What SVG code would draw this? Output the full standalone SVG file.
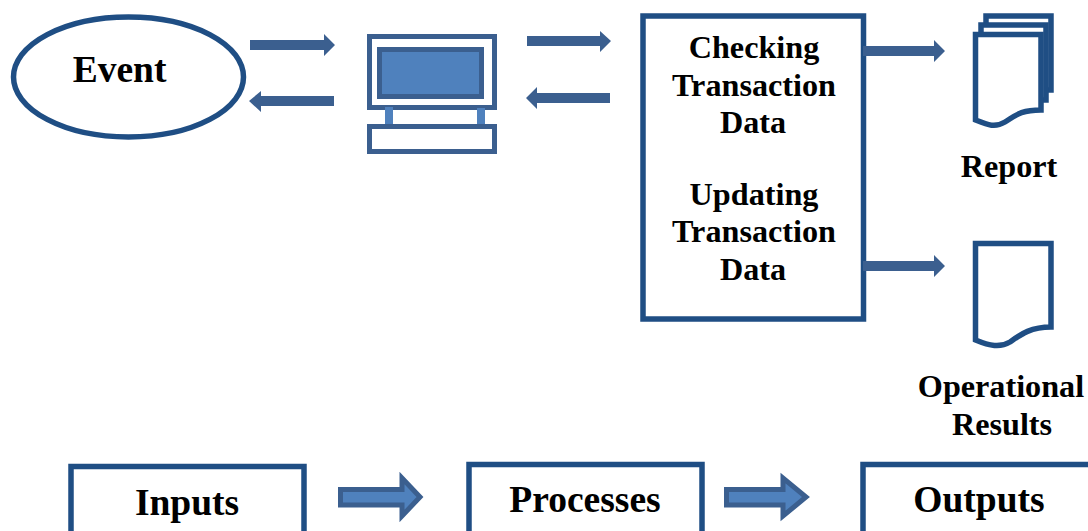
<svg xmlns="http://www.w3.org/2000/svg" width="1088" height="531" viewBox="0 0 1088 531">
<style>
.l{fill:#fff;stroke:#1f4e84;stroke-width:5.500}
.a{fill:#3b5f8f;stroke:none}
.b{fill:#4f81bd;stroke:#3b5f8f;stroke-width:5}
.m{fill:#fff;stroke:#3b5f8f;stroke-width:5}
text{font-family:"Liberation Serif","Times New Roman",serif;font-weight:bold;fill:#000;text-anchor:middle}
.t{font-size:32.200px}
.h{font-size:37.500px}
.k{font-size:37.500px}
</style>
<rect width="1088" height="531" fill="#fff"/>
<g id="event"><ellipse class="l" cx="128.500" cy="77" rx="115" ry="60"/><text class="h" x="119.500" y="82">Event</text></g>
<g id="computer">
<rect class="m" x="369.500" y="36.500" width="125" height="71"/>
<rect class="b" x="379.500" y="49.500" width="102" height="47"/>
<rect x="385" y="107" width="8" height="17" fill="#4f81bd"/>
<rect x="477" y="108" width="8" height="16" fill="#4f81bd"/>
<rect class="m" x="369.500" y="126.500" width="125" height="25"/>
</g>
<g id="process"><rect class="l" x="643" y="16" width="220.500" height="303"/>
<text class="t" x="754" y="58">Checking</text>
<text class="t" x="754" y="96">Transaction</text>
<text class="t" x="753" y="133">Data</text>
<text class="t" x="754" y="205">Updating</text>
<text class="t" x="754" y="242">Transaction</text>
<text class="t" x="753" y="280">Data</text></g>
<g id="report">
<path class="l" d="M986 33V16H1051V90H1044"/>
<path class="l" d="M981 33V25H1046V100H1039"/>
<path class="l" d="M975.500 34.500H1041V110C1020 110 1015 116 1005 122C995 128 988 125 975.500 120Z"/>
<text class="t" x="1009" y="177">Report</text></g>
<g id="operational-results">
<path class="l" d="M975.500 243.500H1051V327C1030 327 1020 335 1010 342C1000 348 990 346 975.500 340Z"/>
<text class="t" x="1001" y="397">Operational</text>
<text class="t" x="1002" y="435">Results</text></g>
<g id="inputs"><rect class="l" x="71" y="466.500" width="233" height="80"/><text class="k" x="187" y="515">Inputs</text></g>
<g id="processes"><rect class="l" x="469" y="464.500" width="233" height="80"/><text class="k" x="585" y="512">Processes</text></g>
<g id="outputs"><rect class="l" x="863" y="464.500" width="233" height="80"/><text class="k" x="979" y="512">Outputs</text></g>
<g id="connectors">
<path class="a" d="M250 40H324V34L335 45L324 56V50H250Z"/>
<path class="a" d="M334 96H261V91L249 101L261 112V106H334Z"/>
<path class="a" d="M527 36H600V31L611 41L600 52V46H527Z"/>
<path class="a" d="M610 93H537V87L526 98L537 109V103H610Z"/>
<path class="a" d="M863 46H934V40L945 51L934 62V56H863Z"/>
<path class="a" d="M863 261H934V255L945 266L934 277V271H863Z"/>
<path class="b" d="M340.500 489.500H402V478L420 497L402 516V505H340.500Z"/>
<path class="b" d="M726.500 489.500H783V478L806 497L783 516V505H726.500Z"/>
</g>
</svg>
